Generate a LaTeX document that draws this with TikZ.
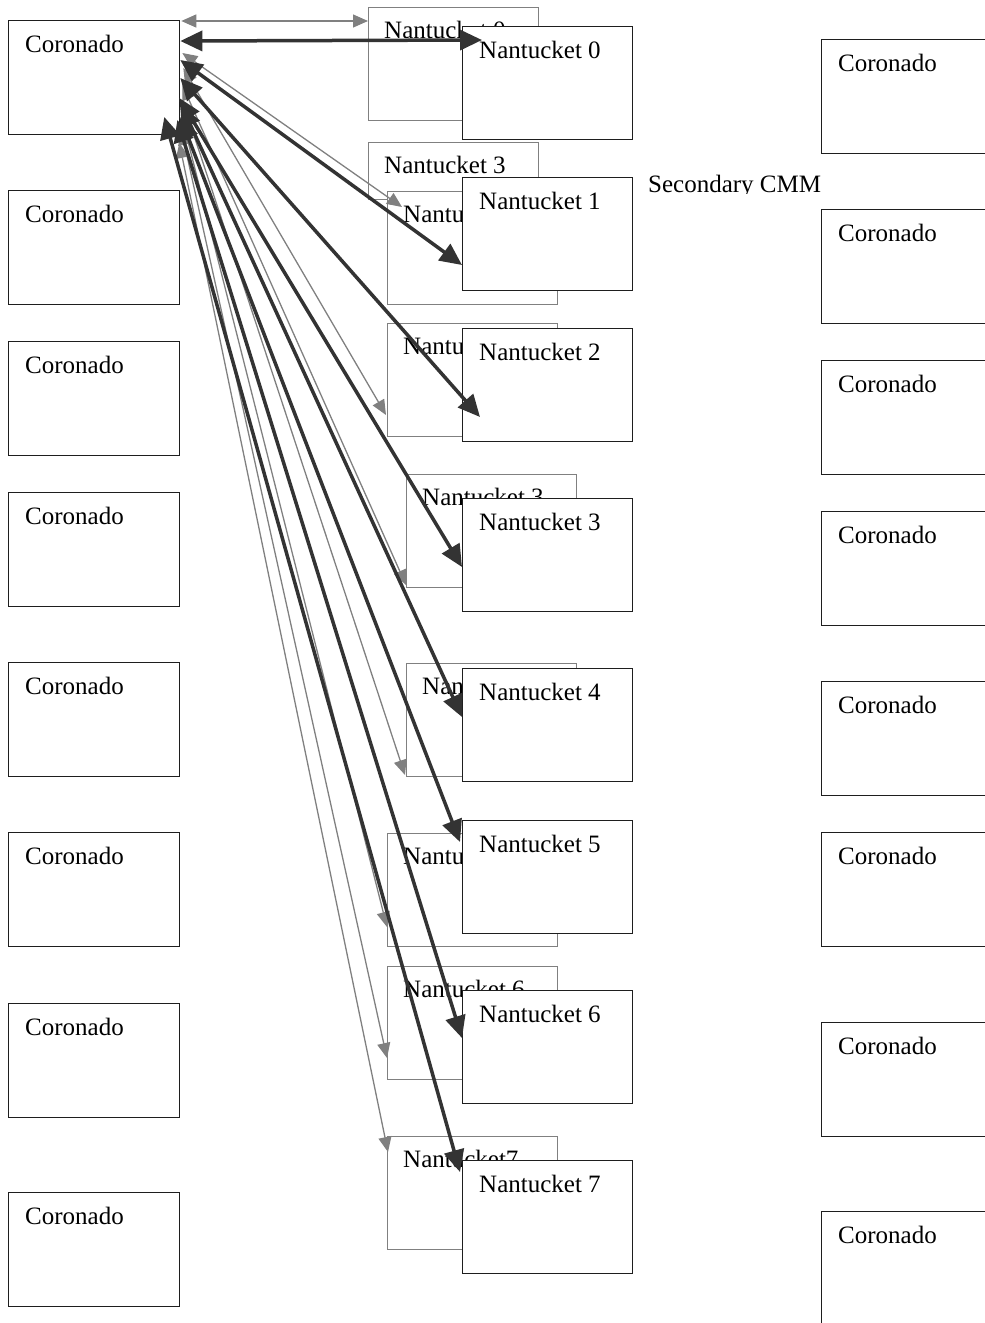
\documentclass[tikz,border=0pt]{standalone}
\usepackage{fontspec}
\setmainfont{Liberation Serif}
\usetikzlibrary{arrows.meta}
\definecolor{frame}{RGB}{30,30,30}
\definecolor{ghost}{RGB}{128,128,128}
\definecolor{link}{RGB}{51,51,51}

\begin{document}
\begin{tikzpicture}[x=1pt, y=-1pt,
    cbox/.style={draw=frame, line width=1.3pt, fill=white, anchor=north west,
      inner sep=0pt, minimum width=171pt, minimum height=114pt},
    ghostbox/.style={cbox, draw=ghost, minimum width=170pt, minimum height=113pt},
    boxtext/.style={anchor=base west, inner sep=0pt, font=\fontsize{25}{30}\selectfont},
    ghostlink/.style={ghost, line width=1.3pt,
      {Triangle[length=15pt,width=13pt]}-{Triangle[length=15pt,width=13pt]}},
    mainlink/.style={link, line width=3.5pt,
      {Triangle[length=22pt,width=20pt]}-{Triangle[length=22pt,width=20pt]}}]
  \useasboundingbox (0,0) rectangle (985,1323);
  \clip (0,0) rectangle (985,1323);

  % left column
  \foreach \y [count=\i from 0] in {20,190,341,492,662,832,1003,1192} {
    \node[cbox] (cl\i) at (8,\y) {};
    \node[boxtext] (tl\i) at ([shift={(17,32)}]cl\i.north west) {Coronado};
  }
  % right column
  \foreach \y [count=\i from 0] in {39,209,360,511,681,832,1022,1211} {
    \node[cbox] (cr\i) at (821,\y) {};
    \node[boxtext] (tr\i) at ([shift={(17,32)}]cr\i.north west) {Coronado};
  }

  % old positions (grey)
  \node[ghostbox, minimum height=57pt] (gx) at (368,142) {};
  \node[boxtext] (tgx) at ([shift={(16,31)}]gx.north west) {Nantucket 3};
  \foreach \x/\y/\t [count=\i from 0] in {368/7/Nantucket 0, 387/191/Nantucket 1,
      387/323/Nantucket 2, 406/474/Nantucket 3, 406/663/Nantucket 4,
      387/833/Nantucket 5, 387/966/Nantucket 6, 387/1136/Nantucket7} {
    \node[ghostbox] (g\i) at (\x,\y) {};
    \node[boxtext] (tg\i) at ([shift={(16,31)}]g\i.north west) {\t};
  }

  % new positions
  \foreach \y [count=\i from 0] in {26,177,328,498,668,820,990,1160} {
    \node[cbox, minimum width=170pt, minimum height=113pt] (n\i) at (462,\y) {};
    \node[boxtext] (tn\i) at ([shift={(17,32)}]n\i.north west) {Nantucket \i};
  }

  \begin{scope}
    \clip (600,150) rectangle (840,193);
    \node[boxtext] (sec) at (648,192) {Secondary CMM};
  \end{scope}

  % grey links
  \foreach \i/\a/\b/\c/\d in {0/1/1/0/14, 1/2/33/15/16, 2/3/48/-1/92, 3/2/65/0/111,
      4/2/80/-1/112, 5/1/95/0/94, 6/1/110/0/92, 7/-1/123/1/16}
    \draw[ghostlink] ([shift={(\a,\b)}]cl0.north east) -- ([shift={(\c,\d)}]g\i.north west);

  % dark links
  \foreach \i/\a/\b/\c/\d in {0/0/21/20/14, 1/0/40/0/88, 2/0/58/18/89, 3/-1/78/0/69,
      4/1/85/0/49, 5/0/97/-2/22, 6/-3/100/0/48, 7/-16/97/-2/12}
    \draw[mainlink] ([shift={(\a,\b)}]cl0.north east) -- ([shift={(\c,\d)}]n\i.north west);
\end{tikzpicture}
\end{document}
